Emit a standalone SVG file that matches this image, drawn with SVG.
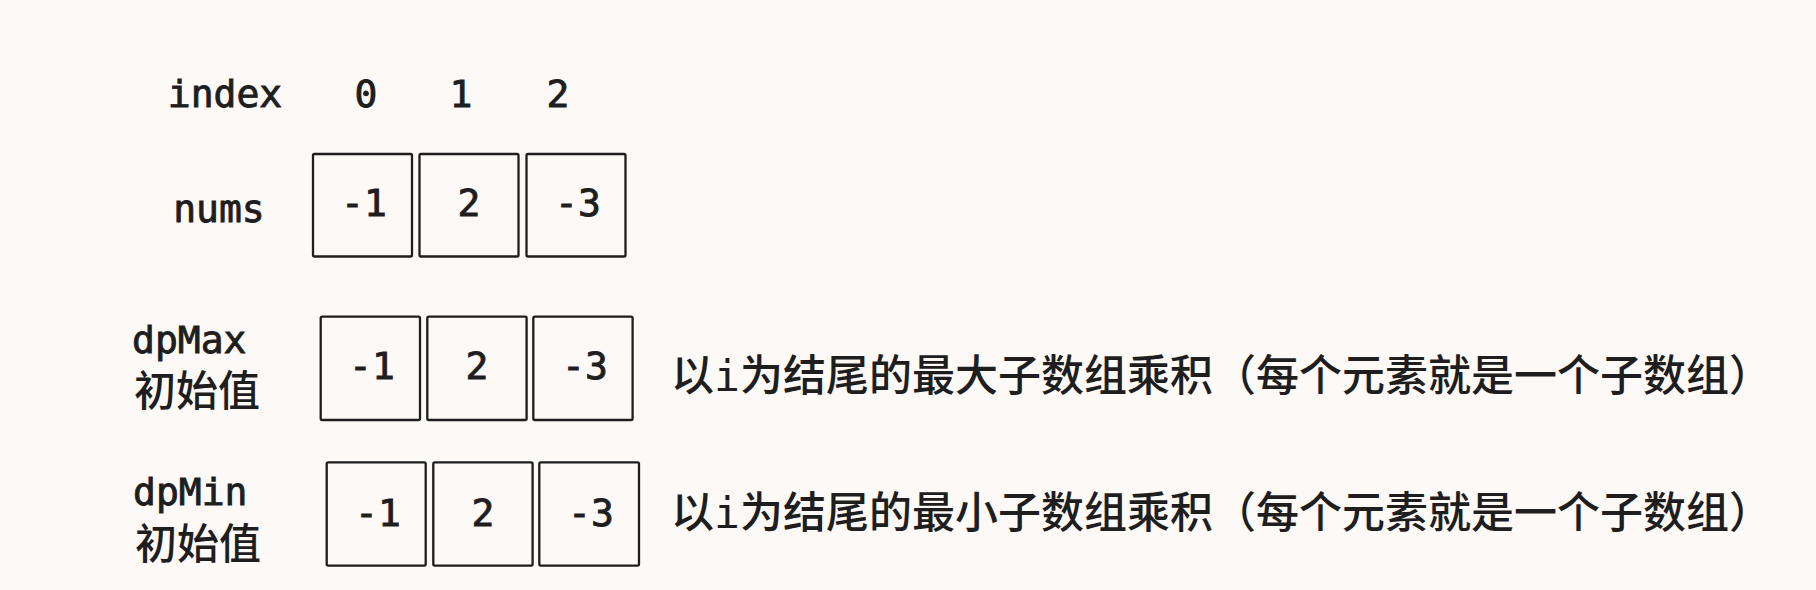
<svg xmlns="http://www.w3.org/2000/svg" width="1816" height="590" viewBox="0 0 1816 590">
<style>
.bg{fill:#fcf9f7}
.cell{fill:none;stroke:#1e1e1e;stroke-width:2.3}
.m{font-family:"DejaVu Sans Mono","Liberation Mono",monospace;font-size:38px;fill:#1e1e1e;stroke:#1e1e1e;stroke-width:0.9}
.c{font-family:"DejaVu Sans Mono","Noto Sans CJK SC",sans-serif;font-size:42px;font-weight:500;fill:#1e1e1e}
.l{font-size:43px}
.mid{text-anchor:middle}
</style>
<rect class="bg" x="0" y="0" width="1816" height="590"/>
<g id="index-row">
<text class="m mid" x="225" y="107">index</text>
<text class="m mid" x="366" y="107">0</text>
<text class="m mid" x="461" y="107">1</text>
<text class="m mid" x="558" y="107">2</text>
</g>
<g id="nums-row">
<text class="m mid" x="219" y="222">nums</text>
<rect class="cell" x="313" y="154" width="99" height="102.5" rx="1.5"/>
<rect class="cell" x="419.5" y="154" width="99" height="102.5" rx="1.5"/>
<rect class="cell" x="526.5" y="154" width="99" height="102.5" rx="1.5"/>
<text class="m mid" x="364" y="216">-1</text>
<text class="m mid" x="469" y="216">2</text>
<text class="m mid" x="578" y="216">-3</text>
</g>
<g id="dpmax-row">
<text class="m" x="132" y="353">dpMax</text>
<text class="c" x="134" y="406">初始值</text>
<rect class="cell" x="320.7" y="316.7" width="99.3" height="103.3" rx="1.5"/>
<rect class="cell" x="427.3" y="316.7" width="99.3" height="103.3" rx="1.5"/>
<rect class="cell" x="533.3" y="316.7" width="99.3" height="103.3" rx="1.5"/>
<text class="m mid" x="372" y="379">-1</text>
<text class="m mid" x="477" y="379">2</text>
<text class="m mid" x="585" y="379">-3</text>
<text class="c l" x="671" y="391">以i为结尾的最大子数组乘积（每个元素就是一个子数组）</text>
</g>
<g id="dpmin-row">
<text class="m" x="133" y="505">dpMin</text>
<text class="c" x="135" y="559">初始值</text>
<rect class="cell" x="326.7" y="462.3" width="99" height="103.3" rx="1.5"/>
<rect class="cell" x="433.3" y="462.3" width="99.3" height="103.3" rx="1.5"/>
<rect class="cell" x="539.3" y="462.3" width="99.7" height="103.3" rx="1.5"/>
<text class="m mid" x="378" y="526">-1</text>
<text class="m mid" x="483" y="526">2</text>
<text class="m mid" x="591" y="526">-3</text>
<text class="c l" x="671" y="528">以i为结尾的最小子数组乘积（每个元素就是一个子数组）</text>
</g>
</svg>
